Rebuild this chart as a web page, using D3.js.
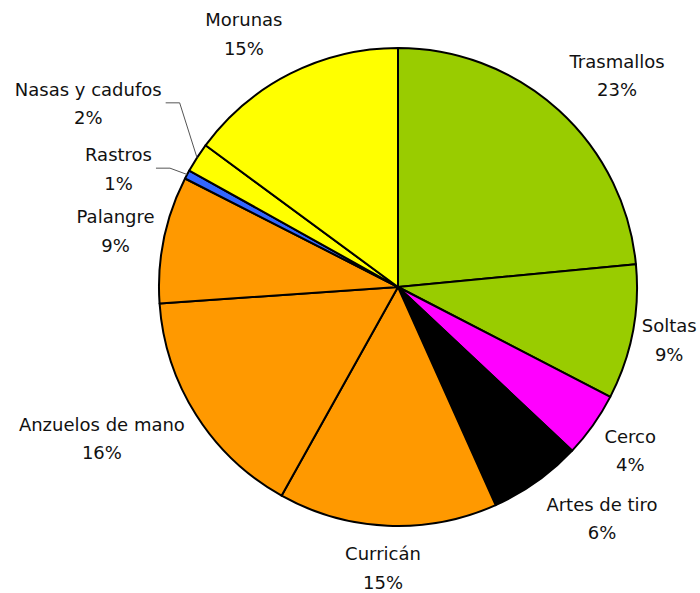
<!DOCTYPE html>
<html>
<head>
<meta charset="utf-8">
<script src="https://cdn.jsdelivr.net/npm/d3@7"></script>
<style>
  html, body { margin: 0; padding: 0; background: #ffffff; }
  svg { display: block; }
  text { font-family: "DejaVu Sans", sans-serif; font-size: 18px; fill: #111; }
</style>
</head>
<body>
<script>
// ---- data ----
const categories = ["Trasmallos", "Soltas", "Cerco", "Artes de tiro", "Curricán",
                    "Anzuelos de mano", "Palangre", "Rastros", "Nasas y cadufos", "Morunas"];
const values = [23.49, 9.11, 4.4, 6.3, 14.8, 15.8, 8.6, 0.6, 2.0, 14.9];
const colors = ["#99CC00", "#99CC00", "#FF00FF", "#000000", "#FF9900",
                "#FF9900", "#FF9900", "#3366FF", "#FFFF00", "#FFFF00"];

// ---- layout ----
const W = 700, H = 593;
const cx = 398, cy = 287, R = 239;
const kx = 2.2, ky = 1.3;   // how fast labels swing from centered to corner-anchored
const baseOff = -8;         // first baseline relative to label box centre
const lineStep = 28.5;
// labels that were moved away and get a leader line
const movedLabels = { "Rastros": [-24, 15], "Nasas y cadufos": [-24, -30] };

const svg = d3.select("body").append("svg").attr("width", W).attr("height", H);
const g = svg.append("g").attr("transform", `translate(${cx},${cy})`);

const total = d3.sum(values);
const pie = d3.pie().sort(null).value(d => d.value).startAngle(0).endAngle(2 * Math.PI);
const arc = d3.arc().innerRadius(0).outerRadius(R);
const data = categories.map((c, i) => ({ name: c, value: values[i], color: colors[i] }));
const arcs = pie(data);

g.selectAll("path.slice").data(arcs).enter().append("path")
  .attr("class", "slice")
  .attr("d", arc)
  .attr("fill", d => d.data.color)
  .attr("stroke", "#000")
  .attr("stroke-width", 2)
  .attr("stroke-linejoin", "round");

const clamp = v => Math.max(-1, Math.min(1, v));

arcs.forEach(a => {
  const mid = (a.startAngle + a.endAngle) / 2;
  const s = Math.sin(mid), c = Math.cos(mid);
  const pct = Math.round(a.data.value / total * 100) + "%";

  const lg = g.append("g");
  const t1 = lg.append("text").attr("text-anchor", "middle").text(a.data.name);
  const t2 = lg.append("text").attr("text-anchor", "middle").text(pct);
  const w = Math.max(t1.node().getComputedTextLength(), t2.node().getComputedTextLength());
  const h = 47;

  const gap = 7 + 12 * Math.abs(c);
  const r = R + gap;
  const px = r * s, py = -r * c;
  let bx = px + (w / 2) * clamp(s * kx);
  let by = py + (h / 2) * clamp(-c * ky);

  const mv = movedLabels[a.data.name];
  if (mv) {
    bx += mv[0]; by += mv[1];
    // leader line: from label's right side, short horizontal, then to arc edge
    const ly = by + baseOff + 7;
    const x0 = bx + w / 2 + 4;
    const x1 = x0 + 14;
    const ex = R * s, ey = -R * c;
    g.append("polyline")
      .attr("points", `${x0},${ly} ${x1},${ly} ${ex},${ey}`)
      .attr("fill", "none")
      .attr("stroke", "#555")
      .attr("stroke-width", 1);
  }

  t1.attr("x", bx).attr("y", by + baseOff);
  t2.attr("x", bx).attr("y", by + baseOff + lineStep);
});
</script>
</body>
</html>
